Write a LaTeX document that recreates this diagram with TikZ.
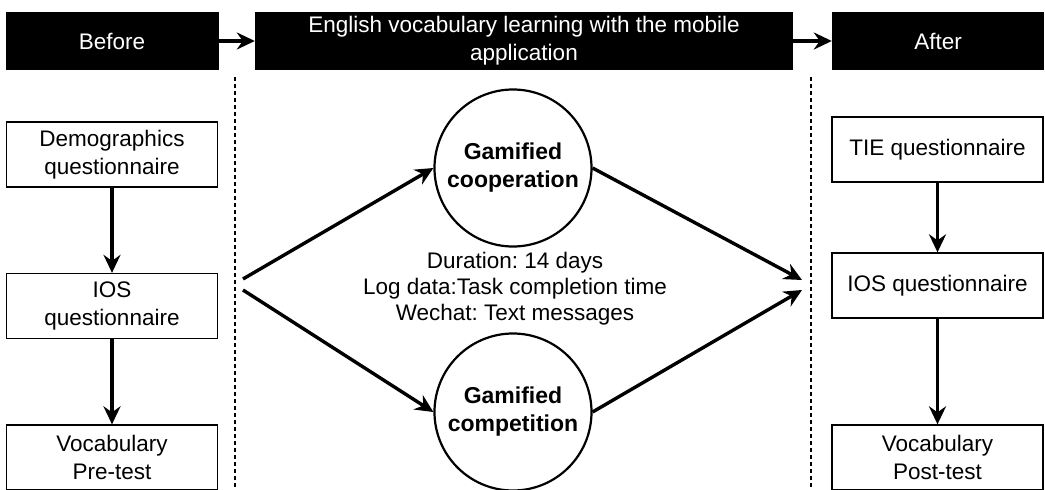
\documentclass[tikz,border=0pt]{standalone}
\usepackage{fontspec}
\setmainfont{Liberation Sans}
\usetikzlibrary{arrows.meta}
\frenchspacing
\begin{document}
\begin{tikzpicture}[x=1pt,y=-1pt,
  hdr/.style={fill=black,text=white,inner sep=0pt,minimum height=58pt,align=center,font=\fontsize{22.5}{28}\selectfont},
  box/.style={draw,line width=1.3pt,inner sep=0pt,minimum width=211pt,minimum height=65pt,align=center,font=\fontsize{22.5}{28}\selectfont},
  grp/.style={draw,circle,line width=2.2pt,inner sep=0pt,minimum size=157pt,align=center,font=\fontsize{23}{28}\selectfont\bfseries},
  arr/.style={line width=3.4pt,-{Stealth[length=18pt,width=17pt,inset=6pt]}},
  sep/.style={line width=1.6pt,dash pattern=on 4pt off 3pt}]
\useasboundingbox (0,0) rectangle (1045,490);
\clip (0,0) rectangle (1045,490);
% phases
\node[hdr,minimum width=213pt] (before) at (112,41) {Before};
\node[hdr,minimum width=538pt] (english) at (524,41) {English vocabulary learning with the mobile\\application};
\node[hdr,minimum width=212pt] (after) at (938,41) {After};
\draw[arr] (before) -- (english);
\draw[arr] (english) -- (after);
\draw[sep] (235,77) -- (235,490);
\draw[sep] (811,77) -- (811,490);
% before
\node[box] (demo) at (112,154.5) {Demographics\\questionnaire};
\node[box] (iosL) at (112,306) {IOS\\questionnaire};
\node[box] (pre) at (112,457.5) {Vocabulary\\Pre-test};
\draw[arr] (demo) -- (iosL);
\draw[arr] (iosL) -- (pre);
% intervention
\node[grp] (coop) at (513,168) {Gamified\\cooperation};
\node[grp] (comp) at (513,412) {Gamified\\competition};
\node[align=center,font=\fontsize{22.5}{26}\selectfont] (info) at (515,289) {Duration: 14 days\\Log data:Task completion time\\Wechat: Text messages};
\coordinate (fork1) at (243,279);
\coordinate (fork2) at (243,290);
\coordinate (join1) at (802,280);
\coordinate (join2) at (802,290);
\draw[arr] (fork1) -- (coop.west);
\draw[arr] (fork2) -- (comp.west);
\draw[arr] (coop.east) -- (join1);
\draw[arr] (comp.east) -- (join2);
% after
\node[box] (tie) at (937.5,149.5) {TIE questionnaire};
\node[box] (iosR) at (937.5,285.5) {IOS questionnaire};
\node[box] (post) at (937.5,457.5) {Vocabulary\\Post-test};
\draw[arr] (tie) -- (iosR);
\draw[arr] (iosR) -- (post);
\end{tikzpicture}
\end{document}
